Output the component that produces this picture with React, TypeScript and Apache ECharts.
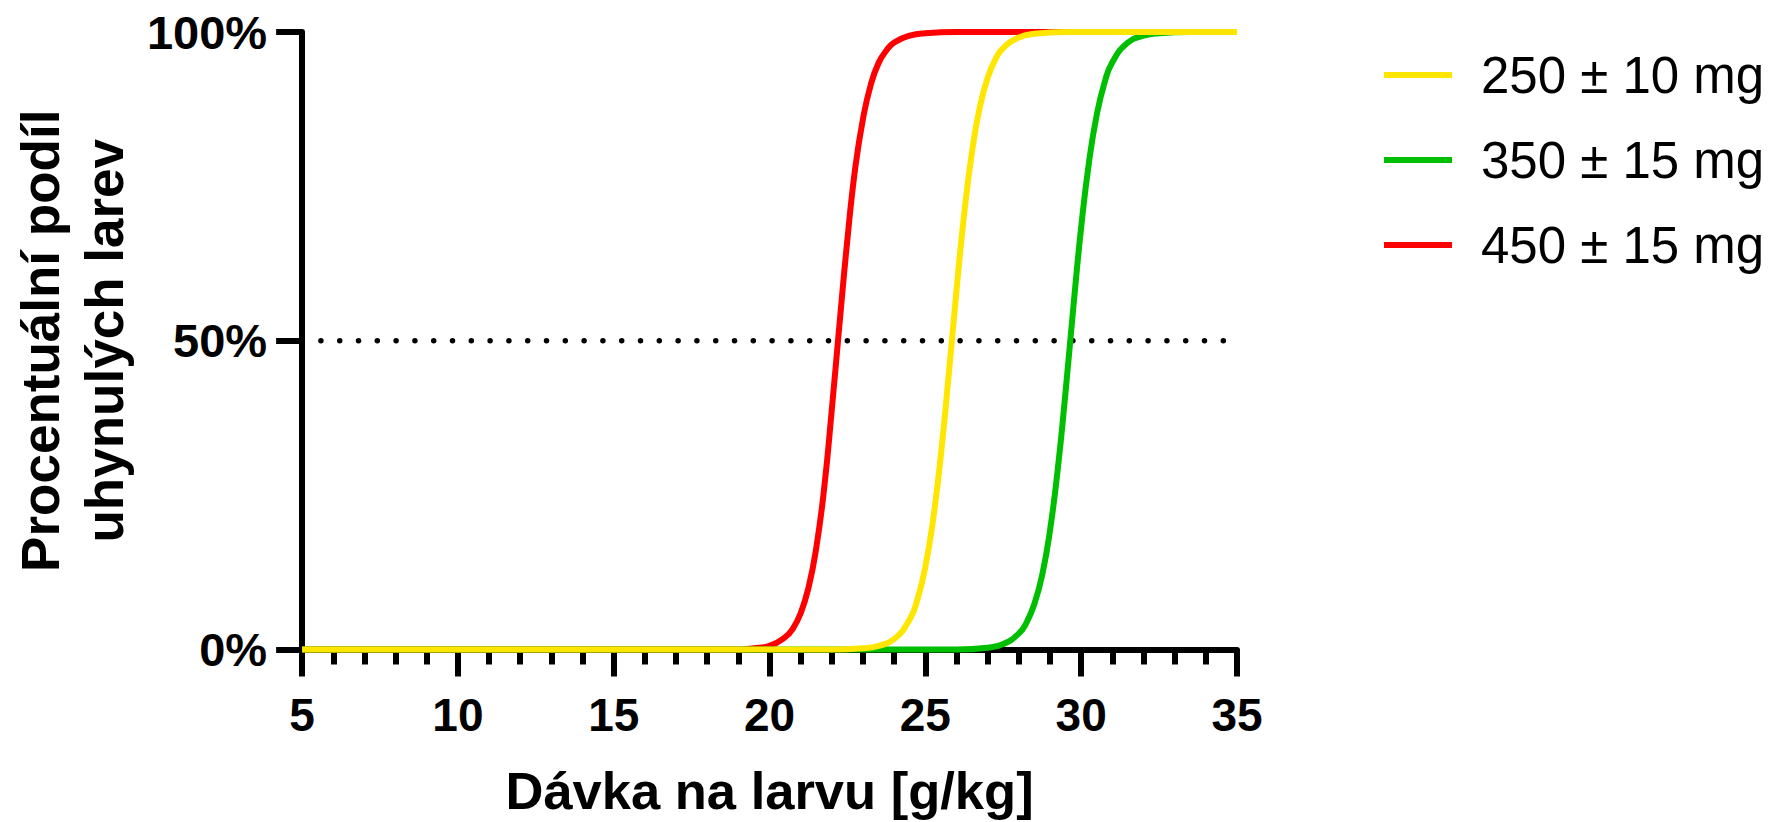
import { useEffect, useRef } from "react";
import * as echarts from "echarts";

// Dose–mortality curves (dose in g/kg, mortality in %)
const seriesNames = ["250 ± 10 mg", "350 ± 15 mg", "450 ± 15 mg"];
const seriesColors = ["#FFE600", "#00BF00", "#FF0000"];

const curve250: number[][] = [
  [5, 0], [22, 0], [23, 0.2], [23.5, 0.6], [24, 1.7], [24.5, 4.9], [24.75, 8.2],
  [25, 13.4], [25.25, 21.1], [25.5, 31.6], [25.75, 44.5], [26, 58.2], [26.25, 70.7],
  [26.5, 80.7], [26.75, 87.9], [27, 92.6], [27.25, 95.6], [27.5, 97.4], [28, 99.1],
  [28.5, 99.7], [29.5, 100], [35, 100],
];

const curve350: number[][] = [
  [5, 0], [26, 0], [27, 0.3], [27.5, 0.9], [28, 2.6], [28.25, 4.4], [28.5, 7.4],
  [28.75, 12.1], [29, 19.3], [29.25, 29.3], [29.5, 41.8], [29.75, 55.5], [30, 68.4],
  [30.25, 78.9], [30.5, 86.6], [30.75, 91.8], [31, 95.1], [31.5, 98.3], [32, 99.4],
  [32.5, 99.8], [33.5, 100], [35, 100],
];

const curve450: number[][] = [
  [5, 0], [19, 0], [19.5, 0.2], [20, 0.6], [20.5, 2], [20.75, 3.4], [21, 5.9],
  [21.25, 10], [21.5, 16.5], [21.75, 26], [22, 39], [22.25, 53], [22.5, 66.5],
  [22.75, 78], [23, 86], [23.25, 91.5], [23.5, 95], [23.75, 97], [24, 98.3],
  [24.5, 99.4], [25, 99.8], [26, 100], [35, 100],
];

// Reference level at 50 % mortality
const halfLevel: number[][] = [[5, 50], [35, 50]];

const xTitle = "Dávka na larvu [g/kg]";
const yTitle = "Procentuální podíl\nuhynulých larev";

const FONT = "'Liberation Sans', Arial, Helvetica, sans-serif";

export default function App() {
  const ref = useRef<HTMLDivElement>(null);

  useEffect(() => {
    if (!ref.current) return;
    const chart = echarts.init(ref.current, undefined, { renderer: "svg" });

    const curveSeries = (name: string, data: number[][], color: string) => ({
      name,
      type: "line",
      data,
      showSymbol: false,
      symbol: "none",
      smooth: 0.5,
      clip: false,
      color,
      lineStyle: { width: 6, color, cap: "butt", join: "round" },
      itemStyle: { color },
      emphasis: { disabled: true },
    });

    chart.setOption({
      animation: false,
      backgroundColor: "#ffffff",
      textStyle: { fontFamily: FONT },
      grid: { left: 301, right: 539, top: 32, bottom: 167, containLabel: false },
      legend: {
        data: seriesNames,
        orient: "vertical",
        left: 1379,
        top: 44,
        icon: "rect",
        itemWidth: 68,
        itemHeight: 6,
        itemGap: 33,
        selectedMode: false,
        textStyle: {
          fontFamily: FONT,
          fontSize: 51,
          lineHeight: 52,
          color: "#000",
          padding: [0, 0, 0, 24],
        },
      },
      xAxis: {
        type: "value",
        min: 5,
        max: 35,
        interval: 5,
        name: xTitle,
        nameLocation: "middle",
        nameGap: 115,
        nameTextStyle: {
          fontFamily: FONT,
          fontSize: 52.5,
          fontWeight: "bold",
          color: "#000",
          lineHeight: 52,
        },
        axisLine: { show: true, lineStyle: { color: "#000", width: 6 } },
        axisTick: { show: true, length: 27, lineStyle: { color: "#000", width: 6 } },
        minorTick: { show: true, splitNumber: 5, length: 15, lineStyle: { color: "#000", width: 6 } },
        splitLine: { show: false },
        minorSplitLine: { show: false },
        axisLabel: {
          fontFamily: FONT,
          fontSize: 46,
          fontWeight: "bold",
          color: "#000",
          margin: 42,
        },
      },
      yAxis: {
        type: "value",
        min: 0,
        max: 100,
        interval: 50,
        name: yTitle,
        nameLocation: "middle",
        nameRotate: 90,
        nameGap: 161,
        nameTextStyle: {
          fontFamily: FONT,
          fontSize: 53,
          fontWeight: "bold",
          color: "#000",
          lineHeight: 64,
          align: "center",
        },
        axisLine: { show: true, lineStyle: { color: "#000", width: 6 } },
        axisTick: { show: true, length: 26, lineStyle: { color: "#000", width: 6 } },
        splitLine: { show: false },
        axisLabel: {
          formatter: "{value}%",
          fontFamily: FONT,
          fontSize: 47,
          fontWeight: "bold",
          color: "#000",
          margin: 35,
        },
      },
      series: [
        {
          name: "half",
          type: "line",
          data: halfLevel,
          showSymbol: false,
          symbol: "none",
          clip: false,
          silent: true,
          lineStyle: { color: "#000", width: 5.5, type: [0, 18.8], cap: "round" },
          emphasis: { disabled: true },
        },
        curveSeries(seriesNames[2], curve450, seriesColors[2]),
        curveSeries(seriesNames[1], curve350, seriesColors[1]),
        curveSeries(seriesNames[0], curve250, seriesColors[0]),
      ],
    });

    return () => chart.dispose();
  }, []);

  return (
    <div
      ref={ref}
      style={{ position: "fixed", left: 0, top: 0, width: 1776, height: 822, background: "#fff" }}
    />
  );
}
